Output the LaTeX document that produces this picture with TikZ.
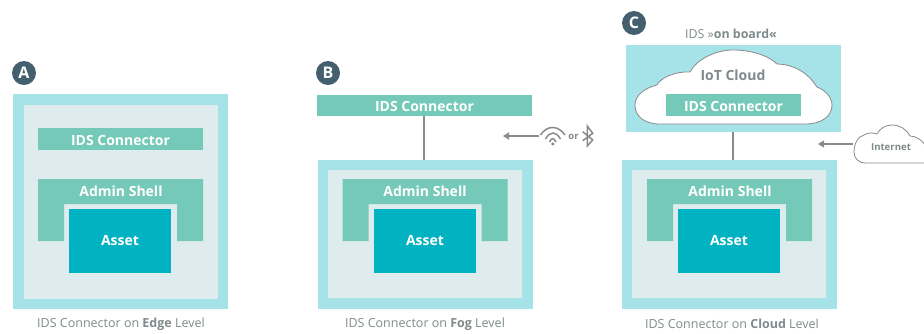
\documentclass[tikz,border=0pt]{standalone}
\usepackage{fontspec}
\setmainfont{Open Sans}
\usetikzlibrary{arrows.meta}
\definecolor{outerc}{HTML}{A6E3E9}
\definecolor{innerc}{HTML}{DFECED}
\definecolor{greenc}{HTML}{74C9B8}
\definecolor{assetc}{HTML}{00B2C2}
\definecolor{badgec}{HTML}{44606E}
\definecolor{grayc}{HTML}{8A8A8A}
\definecolor{capc}{HTML}{7F8A8A}
\tikzset{x=1pt,y=-1pt,
  box/.style={anchor=north west,inner sep=0pt,outer sep=0pt,draw=none},
  outerbox/.style={box,fill=outerc,minimum width=215pt},
  innerbox/.style={box,fill=innerc,minimum width=194pt},
  conn/.style={box,fill=greenc,text=white,text height=12pt,text depth=0pt,font=\fontsize{14}{14}\selectfont\bfseries},
  assetbox/.style={box,fill=assetc,text=white,minimum width=102pt,minimum height=64pt,font=\fontsize{14}{14}\selectfont\bfseries},
  shelllabel/.style={text=white,inner sep=0pt,font=\fontsize{14}{14}\selectfont\bfseries},
  badge/.style={circle,fill=badgec,text=white,minimum size=24pt,inner sep=0pt,font=\fontsize{16}{16}\selectfont\bfseries},
  caption/.style={text=capc,inner sep=0pt,font=\fontsize{12.5}{12.5}\selectfont},
  link/.style={draw=grayc,line width=2pt},
  signal/.style={draw=grayc,line width=1.2pt,-{Triangle[length=6pt,width=7pt]}},
  icon/.style={draw=grayc,line width=1.5pt},
  cloudline/.style={draw=grayc,line width=0.8pt,fill=white},
  graylabel/.style={text=capc,inner sep=0pt}
}
\newcommand{\shellshape}[1]{%
  \fill[greenc,shift={(#1,0)}] (38,179) -- (203,179) -- (203,241) -- (177,241) -- (177,204) -- (64,204) -- (64,241) -- (38,241) -- cycle;}
\begin{document}
\begin{tikzpicture}
\useasboundingbox (0,0) rectangle (924,333);
% A
\node[badge] (badgeA) at (24,73) {A};
\node[outerbox,minimum height=215pt] (outerA) at (13,94) {};
\node[innerbox,minimum height=194pt] (innerA) at (24,105) {};
\node[conn,minimum width=165pt,minimum height=22pt] (idsA) at (38,128) {IDS Connector};
\shellshape{0}
\node[shelllabel] (shellA) at (121,191.5) {Admin Shell};
\node[assetbox] (assetA) at (69,209) {Asset};
\node[caption] (capA) at (121,324) {IDS Connector on \textbf{Edge} Level};
% B
\node[badge] (badgeB) at (328,73) {B};
\node[conn,minimum width=215pt,minimum height=21pt] (idsB) at (317,95) {IDS Connector};
\node[outerbox,minimum height=149pt] (outerB) at (317.5,160) {};
\node[innerbox,minimum height=128pt] (innerB) at (328,170) {};
\shellshape{304.5}
\node[shelllabel] (shellB) at (425,191.5) {Admin Shell};
\node[assetbox] (assetB) at (374,209) {Asset};
\node[caption] (capB) at (425,324) {IDS Connector on \textbf{Fog} Level};
\draw[link] (idsB.south -| 424,0) -- (outerB.north -| 424,0);
% wireless
\coordinate (wifi) at (538.5,136);
\coordinate (wifiTip) at (503,136);
\draw[signal] (wifi) -- (wifiTip);
\draw[icon] (540.5,135) .. controls (547,125) and (558,125) .. (565,135);
\draw[icon] (545.5,139) .. controls (550,131) and (556,131) .. (560.5,139);
\draw[icon] (549.5,142) .. controls (551.5,137.5) and (554,137.5) .. (556,142);
\fill[grayc] (552.8,144) circle (1.7pt);
\node[graylabel,font=\fontsize{9.5}{9.5}\selectfont\bfseries] (orlabel) at (573.5,136.5) {or};
\draw[icon,line join=miter] (582.7,131.7) -- (592.7,140) -- (587.3,146) -- (587.3,126) -- (592.7,133.3) -- (582.7,140.7);
% C
\node[badge] (badgeC) at (634,23) {C};
\node[graylabel,font=\fontsize{12.4}{12.4}\selectfont] (onboard) at (731,34) {IDS »\textbf{on board«}};
\node[outerbox,minimum height=87pt] (outerTop) at (626,45) {};
\path[cloudline] (660,124) .. controls (644,124) and (635,116) .. (635,105)
  .. controls (635,95) and (645,88) .. (657,85)
  .. controls (660,78) and (676,71) .. (690,72)
  .. controls (696,60) and (715,50) .. (733,50)
  .. controls (750,50) and (768,55) .. (777,64)
  .. controls (787,64) and (805,68) .. (817,87)
  .. controls (825,90) and (832,97) .. (832,105)
  .. controls (832,116) and (822,124) .. (805,124) -- cycle;
\node[graylabel,font=\fontsize{14}{14}\selectfont\bfseries] (iot) at (733,75) {IoT Cloud};
\node[conn,minimum width=135pt,minimum height=22pt] (idsC) at (666,94) {IDS Connector};
\node[outerbox,minimum height=149pt] (outerC) at (622,160) {};
\node[innerbox,minimum height=128pt] (innerC) at (632,170) {};
\shellshape{609}
\node[shelllabel] (shellC) at (730,191.5) {Admin Shell};
\node[assetbox] (assetC) at (678,209) {Asset};
\node[caption] (capC) at (732,324) {IDS Connector on \textbf{Cloud} Level};
\draw[link] (outerTop.south -| 733,0) -- (outerC.north -| 733,0);
% Internet
\path[cloudline] (930,163) -- (866,163)
  .. controls (858,163) and (854,158) .. (854,152)
  .. controls (854,144) and (858,136) .. (864,135)
  .. controls (868,132) and (875,133) .. (877,134)
  .. controls (880,128) and (886,125) .. (892,125)
  .. controls (900,125) and (906,129) .. (910,136)
  .. controls (916,136) and (922,140) .. (926,146);
\node[graylabel,font=\fontsize{9.6}{9.6}\selectfont\bfseries] (internet) at (891,147) {Internet};
\coordinate (netStart) at (853,144);
\coordinate (netTip) at (818,144);
\draw[signal] (netStart) -- (netTip);
\end{tikzpicture}
\end{document}
